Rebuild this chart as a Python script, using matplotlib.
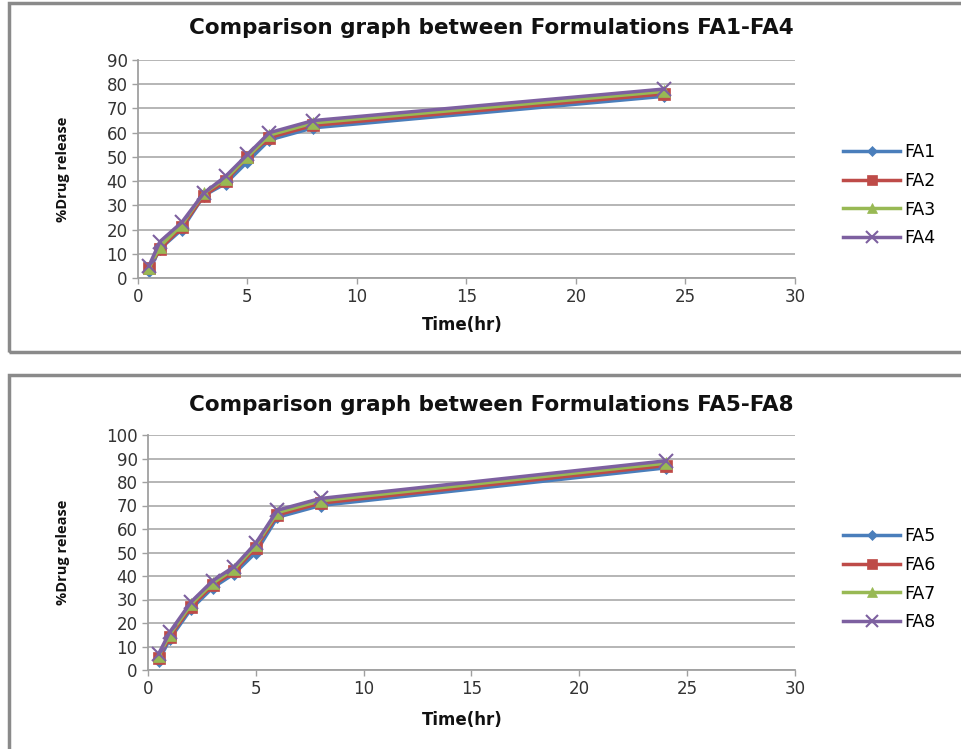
import matplotlib
matplotlib.use("Agg")
import matplotlib.pyplot as plt
from matplotlib.patches import Rectangle

time_hr = [0.5, 1, 2, 3, 4, 5, 6, 8, 24]

fa1 = [3, 12, 20, 34, 39, 48, 57, 62, 75]
fa2 = [4, 12, 21, 34, 40, 50, 58, 63, 76]
fa3 = [4, 13, 22, 35, 41, 50, 59, 64, 77]
fa4 = [5, 15, 23, 35, 42, 51, 60, 65, 78]

fa5 = [4, 13, 26, 35, 41, 50, 65, 70, 86]
fa6 = [5, 14, 27, 36, 42, 52, 66, 71, 87]
fa7 = [6, 15, 28, 37, 43, 53, 67, 72, 88]
fa8 = [7, 16, 29, 38, 44, 54, 68, 73, 89]

top_title = "Comparison graph between Formulations FA1-FA4"
bot_title = "Comparison graph between Formulations FA5-FA8"

W, H = 962, 749
fig = plt.figure(figsize=(W/100, H/100), dpi=100)
plt.rcParams['font.family'] = ['DejaVu Sans']

def fx(px): return px / W
def fy(py): return 1 - py / H

# panel frames
for (y0, y1) in [(3, 352), (375, 760)]:
    fig.patches.append(Rectangle((fx(9), fy(y1)), fx(1000) - fx(9), fy(y0) - fy(y1),
                                 transform=fig.transFigure, fill=False,
                                 edgecolor='#8a8a8a', linewidth=2.5))

colors = ['#4A7EBB', '#BE4B48', '#98B954', '#7D60A0']
markers = ['D', 's', '^', 'x']
msizes = [6, 9, 9, 10]

def panel(left, right, top, bottom, series, names, ymax, title, title_y, xlabel_y, ylabel_x, legend_y):
    ax = fig.add_axes([fx(left), fy(bottom), fx(right) - fx(left), fy(top) - fy(bottom)])
    for s, n, c, m, ms in zip(series, names, colors, markers, msizes):
        ax.plot(time_hr, s, color=c, marker=m, markersize=ms, linewidth=2.5,
                markeredgewidth=1.5 if m == 'x' else 0.5, label=n)
    ax.set_xlim(0, 30)
    ax.set_ylim(0, ymax)
    ax.set_xticks(range(0, 31, 5))
    ax.set_yticks(range(0, ymax + 1, 10))
    ax.yaxis.grid(True, color='#b0b0b0', linewidth=1.3)
    ax.set_axisbelow(True)
    for sp in ['top', 'right']:
        ax.spines[sp].set_visible(False)
    for sp in ['left', 'bottom']:
        ax.spines[sp].set_color('#a0a0a0')
        ax.spines[sp].set_linewidth(1.3)
    ax.tick_params(axis='both', colors='#a0a0a0', labelcolor='#333333', labelsize=12, length=4, width=1)
    fig.text(fx(491), fy(title_y), title, ha='center', va='center',
             fontsize=15.5, fontweight='bold', color='#111111')
    fig.text(fx(462), fy(xlabel_y), 'Time(hr)', ha='center', va='center',
             fontsize=12, fontweight='bold', color='#111111')
    fig.text(fx(ylabel_x), fy((top + bottom) / 2), '%Drug release', ha='center', va='center',
             rotation=90, fontsize=10.5, fontweight='bold', color='#111111',
             family=['Open Sans', 'DejaVu Sans'])
    ax.legend(loc='upper left', bbox_to_anchor=(fx(843), fy(legend_y)),
              bbox_transform=fig.transFigure, frameon=False, fontsize=12.5,
              handlelength=3.3, labelspacing=0.62, handletextpad=0.25,
              borderaxespad=0, borderpad=0, markerscale=0.8)
    return ax

panel(138, 795, 60, 278, [fa1, fa2, fa3, fa4], ['FA1', 'FA2', 'FA3', 'FA4'], 90,
      top_title, 28, 325, 63, 143)
panel(148, 795, 435, 670, [fa5, fa6, fa7, fa8], ['FA5', 'FA6', 'FA7', 'FA8'], 100,
      bot_title, 405, 720, 63, 527)

fig.savefig('out.png', dpi=100)
